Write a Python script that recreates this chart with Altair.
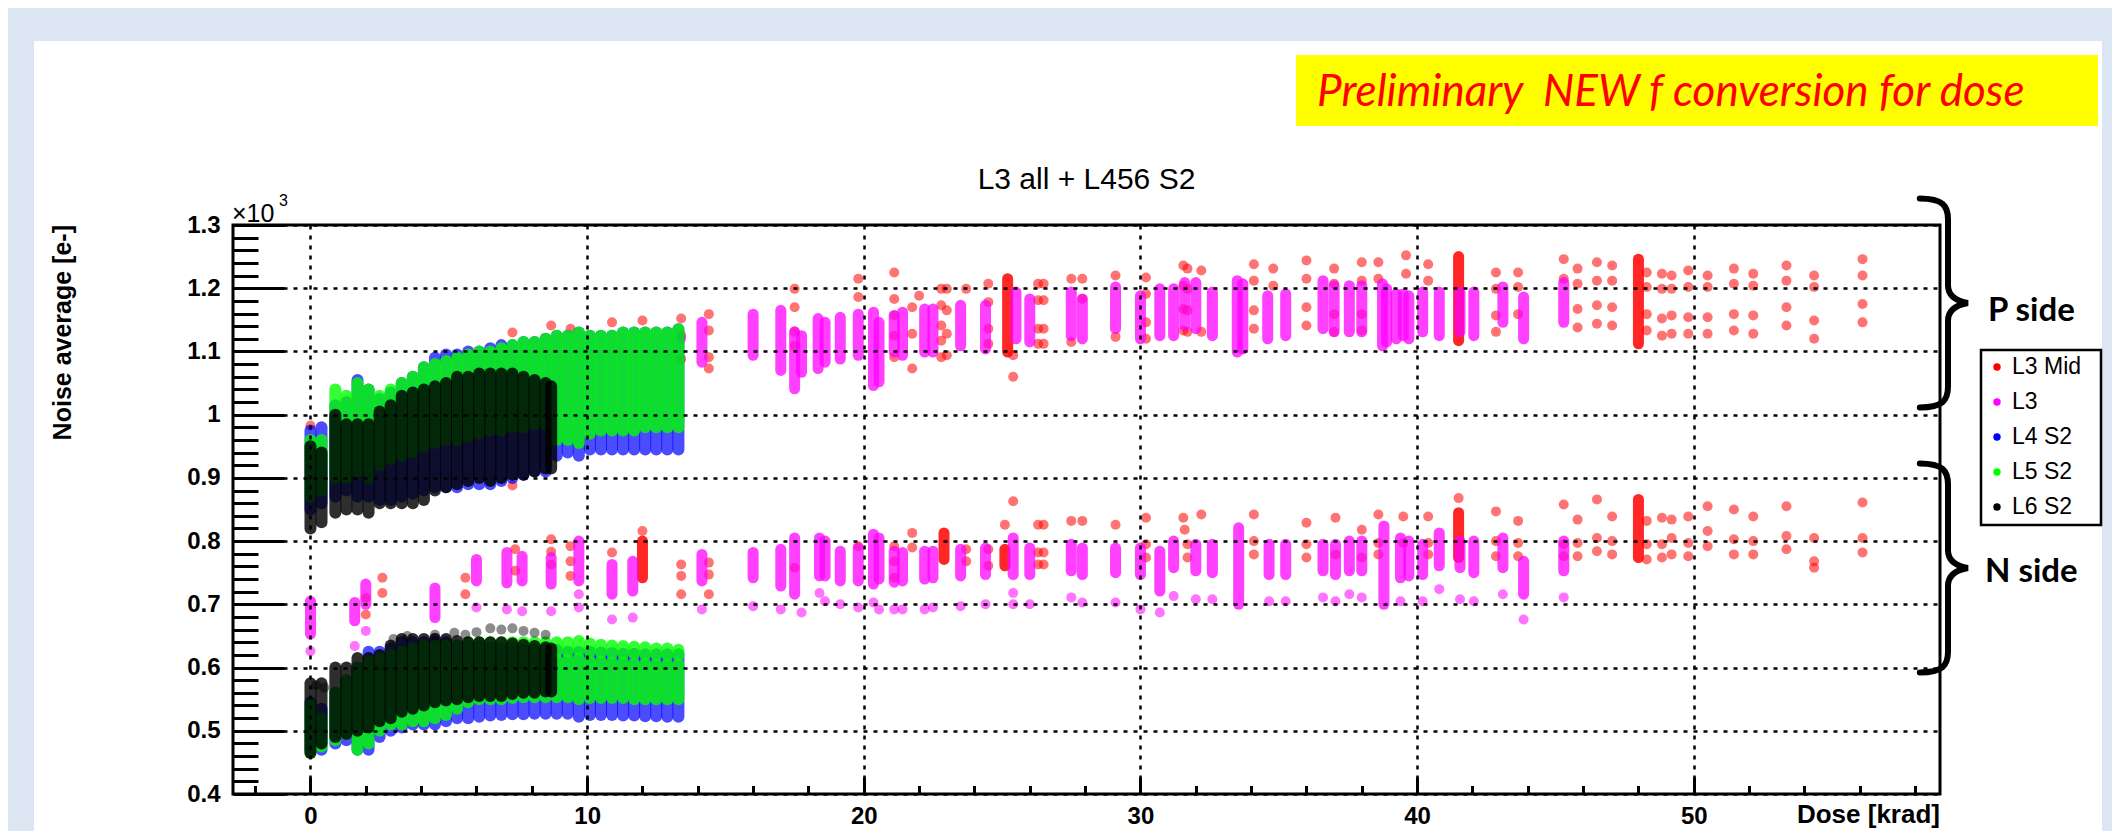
import altair as alt
import pandas as pd

# ---------------------------------------------------------------- data
SERIES = ["L3 Mid", "L3", "L4 S2", "L5 S2", "L6 S2"]
COLORS = ["#ff0000", "#ff00ff", "#0000ff", "#00ff00", "#000000"]

# dense columns of L4/L5/L6 (dose [krad], low/high noise [e-])
L6_DOSE = [0, 0.4, 0.9, 1.3, 1.7, 2.1, 2.5, 2.9, 3.3, 3.7, 4.1, 4.5, 4.9, 5.3, 5.7, 6.1,
           6.5, 6.9, 7.3, 7.7, 8.1, 8.5, 8.7]
L6_P_LO = [820, 830, 845, 850, 850, 845, 860, 860, 860, 860, 865, 880, 885, 890, 895, 900,
           895, 900, 905, 905, 910, 915, 915]
L6_P_HI = [950, 940, 1000, 985, 985, 985, 1005, 1015, 1030, 1035, 1040, 1045, 1050, 1060, 1060, 1065,
           1065, 1065, 1065, 1060, 1055, 1050, 1045]
L6_N_LO = [465, 480, 490, 495, 500, 505, 515, 520, 530, 535, 540, 545, 548, 550, 553, 555,
           555, 555, 558, 560, 560, 562, 562]
L6_N_HI = [575, 575, 600, 600, 615, 615, 620, 635, 645, 645, 645, 645, 645, 642, 640, 640,
           640, 640, 638, 636, 634, 632, 630]
L6_N_PTS = [(3.0, 645), (3.5, 650), (4.5, 652), (5.2, 655), (5.6, 652), (6.0, 656), (6.5, 662),
            (6.9, 660), (7.3, 662), (7.7, 658), (8.1, 655), (8.5, 652), (0.2, 572), (0.5, 568)]

L45_DOSE = [0, 0.4, 0.9, 1.3, 1.7, 2.1, 2.5, 2.9, 3.3, 3.7, 4.1, 4.5, 4.9, 5.3, 5.7, 6.1,
            6.5, 6.9, 7.3, 7.7, 8.1, 8.5, 8.9, 9.3, 9.7, 10.1, 10.5, 10.9, 11.3, 11.7, 12.1,
            12.5, 12.9, 13.3]
L5_P_LO = [870, 880, 900, 900, 910, 900, 920, 930, 935, 940, 950, 955, 960, 960, 965, 970,
           975, 975, 980, 980, 985, 985, 960, 960, 955, 970, 975, 975, 975, 975, 980, 980, 980, 980]
L5_P_HI = [960, 960, 1040, 1030, 1050, 1040, 1030, 1040, 1050, 1060, 1075, 1080, 1085, 1090, 1095, 1100,
           1100, 1105, 1110, 1115, 1115, 1120, 1125, 1125, 1130, 1125, 1125, 1125, 1130, 1130, 1130,
           1130, 1130, 1135]
L5_N_LO = [465, 475, 485, 495, 470, 480, 500, 510, 510, 515, 515, 520, 525, 535, 545, 550,
           550, 550, 552, 553, 553, 553, 553, 553, 550, 552, 552, 552, 552, 550, 550, 550, 550, 550]
L5_N_HI = [540, 520, 560, 580, 600, 610, 615, 620, 625, 630, 635, 635, 635, 635, 640, 640,
           640, 640, 640, 640, 640, 640, 612, 612, 615, 610, 610, 608, 608, 606, 606, 605, 605, 605]
L5_N_UPPER = [(8.9, 625, 640), (9.3, 625, 640), (9.7, 628, 642), (10.1, 625, 638), (10.5, 624, 636),
              (10.9, 623, 635), (11.3, 622, 634), (11.7, 622, 633), (12.1, 621, 632), (12.5, 620, 630),
              (12.9, 620, 630), (13.3, 619, 628)]
L4_P_LO = [850, 860, 870, 880, 870, 870, 865, 865, 870, 875, 880, 885, 885, 885, 890, 890,
           890, 895, 900, 905, 910, 910, 935, 940, 935, 945, 945, 945, 945, 945, 945, 945, 945, 945]
L4_P_HI = [975, 980, 1015, 1020, 1055, 1040, 1025, 1035, 1050, 1060, 1075, 1090, 1095, 1095, 1100, 1100,
           1105, 1110, 1110, 1115, 1115, 1120, 1125, 1125, 1130, 1125, 1125, 1125, 1130, 1130, 1130,
           1130, 1130, 1135]
L4_N_LO = [470, 470, 480, 485, 470, 470, 490, 500, 505, 510, 510, 510, 515, 520, 520, 522,
           524, 525, 526, 526, 527, 527, 527, 527, 522, 525, 525, 525, 524, 524, 523, 523, 522, 522]
L4_N_HI = [545, 535, 560, 580, 600, 625, 625, 630, 640, 640, 640, 640, 640, 635, 635, 635,
           632, 630, 630, 628, 628, 628, 628, 625, 625, 625, 624, 623, 622, 622, 621, 621, 621, 621]

# L3 (magenta) columns and single points
MAG_STRIPS = [
    (14.15, 1083, 1146), (16.0, 1094, 1159), (17.0, 1070, 1165), (17.5, 1041, 1131), (17.75, 1067, 1125),
    (18.35, 1073, 1152), (18.6, 1083, 1146), (19.15, 1088, 1154), (19.8, 1094, 1159), (20.35, 1046, 1162),
    (20.55, 1052, 1146), (21.1, 1099, 1157), (21.4, 1094, 1162), (22.2, 1099, 1167), (22.5, 1099, 1167),
    (23.5, 1109, 1173), (24.4, 1104, 1173), (25.5, 1120, 1194), (26.0, 1115, 1183), (27.5, 1125, 1194),
    (27.9, 1120, 1183), (29.1, 1136, 1202), (30.0, 1120, 1188), (30.7, 1125, 1199), (31.2, 1125, 1199),
    (31.6, 1141, 1209), (32.0, 1136, 1209), (32.6, 1125, 1194), (33.5, 1099, 1212), (33.7, 1104, 1207),
    (34.6, 1120, 1188), (35.25, 1125, 1191), (36.6, 1136, 1212), (37.0, 1131, 1204), (37.55, 1131, 1204),
    (38.0, 1131, 1204), (38.75, 1109, 1207), (38.9, 1115, 1199), (39.25, 1120, 1191), (39.5, 1125, 1191),
    (39.7, 1120, 1188), (40.2, 1131, 1194), (40.8, 1125, 1194), (41.55, 1131, 1194), (42.05, 1125, 1194),
    (43.1, 1146, 1202), (43.85, 1120, 1186), (45.3, 1146, 1209),
    (0, 653, 705), (1.6, 674, 703), (2.0, 700, 732), (4.5, 679, 726), (6.0, 737, 771), (7.1, 734, 782),
    (7.65, 737, 776), (8.7, 732, 774), (9.7, 737, 800), (10.9, 716, 763), (11.65, 721, 768),
    (14.15, 737, 779), (16.0, 742, 782), (17.0, 729, 787), (17.5, 716, 805), (18.4, 745, 805),
    (18.6, 745, 800), (19.15, 737, 784), (19.8, 737, 789), (20.35, 732, 811), (20.55, 740, 805),
    (21.1, 735, 784), (21.4, 737, 782), (22.2, 740, 784), (22.5, 742, 784), (23.5, 745, 787),
    (24.4, 747, 789), (25.4, 747, 805), (26.0, 747, 789), (27.5, 753, 795), (27.9, 747, 789),
    (29.1, 750, 789), (30.0, 747, 789), (30.7, 721, 784), (31.2, 758, 800), (32.0, 753, 795),
    (32.6, 750, 795), (33.55, 700, 821), (34.65, 747, 795), (35.25, 747, 795), (36.6, 753, 795),
    (37.05, 747, 795), (37.55, 753, 800), (38.0, 753, 800), (38.8, 700, 824), (39.4, 742, 805),
    (39.7, 745, 800), (40.2, 747, 795), (40.8, 761, 813), (41.55, 758, 800), (42.05, 750, 800),
    (43.1, 758, 805), (43.85, 716, 768), (45.3, 753, 800),
]
MAG_PTS = [
    (13.4, 1120), (0, 626), (1.6, 634), (2.0, 658), (4.5, 647), (6.0, 695), (7.1, 692), (7.65, 689),
    (8.7, 689), (9.7, 716), (9.7, 695), (10.9, 676), (11.65, 679), (14.15, 692), (16.0, 697),
    (17.0, 692), (17.75, 687), (18.4, 718), (18.6, 705), (19.15, 700), (19.8, 695), (20.35, 703),
    (20.55, 692), (21.1, 692), (21.4, 692), (22.2, 692), (22.5, 695), (23.5, 697), (24.4, 700),
    (25.4, 718), (25.4, 700), (26.0, 700), (27.5, 711), (27.9, 703), (29.1, 703), (30.0, 692),
    (30.7, 687), (31.2, 713), (32.0, 708), (32.6, 708), (34.65, 705), (35.25, 705), (36.6, 711),
    (37.05, 705), (37.55, 716), (38.0, 711), (39.4, 705), (40.2, 705), (40.8, 724), (41.55, 708),
    (42.05, 705), (43.1, 716), (43.85, 676), (45.3, 711),
]

# L3 Mid (red) dense columns and single points
RED_STRIPS = [(25.2, 1099, 1215), (41.5, 1117, 1250), (48.0, 1112, 1246), (12.0, 742, 800),
              (22.9, 771, 813), (25.1, 761, 787), (41.5, 774, 845), (48.0, 774, 866)]
RED_PTS = [
    (0, 983), (7.3, 1130), (7.3, 888), (8.7, 1141), (9.4, 1136), (10.9, 1146), (12.0, 1149),
    (13.4, 1152), (13.4, 1125), (13.4, 1088), (14.4, 1159), (14.4, 1133), (14.4, 1091), (14.4, 1073),
    (17.5, 1199), (17.5, 1170), (17.5, 1131), (17.5, 1109), (19.8, 1215), (19.8, 1186),
    (21.1, 1225), (21.1, 1183), (21.1, 1157), (21.1, 1125), (21.1, 1091),
    (21.75, 1170), (21.75, 1128), (21.75, 1073), (22.0, 1188),
    (22.8, 1199), (22.8, 1173), (22.8, 1141), (22.8, 1117), (22.8, 1091),
    (23.0, 1199), (23.0, 1165), (23.0, 1128), (23.0, 1094), (23.7, 1199),
    (24.5, 1207), (24.5, 1178), (24.5, 1136), (24.5, 1112), (25.4, 1094), (25.4, 1060),
    (26.3, 1207), (26.3, 1181), (26.3, 1136), (26.3, 1112), (26.5, 1207), (26.5, 1181),
    (26.5, 1136), (26.5, 1112), (27.5, 1215), (27.5, 1115), (27.9, 1215), (27.9, 1183),
    (29.1, 1220), (29.1, 1123), (30.2, 1217), (30.2, 1191), (30.2, 1146), (30.2, 1120),
    (31.55, 1236), (31.55, 1204), (31.55, 1167), (31.55, 1133), (31.7, 1231), (31.7, 1199),
    (31.7, 1165), (31.7, 1131), (32.2, 1228), (32.2, 1131), (34.1, 1238), (34.1, 1212),
    (34.1, 1165), (34.1, 1136), (34.8, 1231), (34.8, 1204), (36.0, 1244), (36.0, 1215),
    (36.0, 1170), (36.0, 1141), (37.0, 1231), (37.0, 1207), (37.0, 1159), (37.0, 1131),
    (38.0, 1241), (38.0, 1212), (38.0, 1159), (38.0, 1133), (38.6, 1241), (38.6, 1215),
    (39.6, 1252), (39.6, 1223), (40.4, 1238), (40.4, 1212),
    (42.85, 1225), (42.85, 1199), (42.85, 1157), (42.85, 1131), (43.65, 1225), (43.65, 1202),
    (43.65, 1159), (45.3, 1246), (45.3, 1215), (45.8, 1231), (45.8, 1207), (45.8, 1167),
    (45.8, 1138), (46.5, 1241), (46.5, 1212), (46.5, 1173), (46.5, 1144), (47.05, 1236),
    (47.05, 1212), (47.05, 1170), (47.05, 1141), (48.3, 1225), (48.3, 1202), (48.3, 1159),
    (48.3, 1133), (48.85, 1223), (48.85, 1199), (48.85, 1152), (48.85, 1125), (49.2, 1220),
    (49.2, 1199), (49.2, 1157), (49.2, 1128), (49.8, 1228), (49.8, 1202), (49.8, 1154),
    (49.8, 1128), (50.5, 1220), (50.5, 1202), (50.5, 1154), (50.5, 1128), (51.45, 1231),
    (51.45, 1207), (51.45, 1159), (51.45, 1133), (52.15, 1223), (52.15, 1204), (52.15, 1157),
    (52.15, 1128), (53.35, 1236), (53.35, 1212), (53.35, 1170), (53.35, 1141), (54.35, 1220),
    (54.35, 1202), (54.35, 1149), (54.35, 1120), (56.1, 1246), (56.1, 1220), (56.1, 1175),
    (56.1, 1146),
    (2.0, 710), (2.0, 684), (2.6, 742), (2.6, 718), (5.6, 742), (5.6, 716), (7.4, 787), (7.4, 753),
    (8.7, 803), (8.7, 783), (8.7, 763), (9.4, 792), (9.4, 768), (9.4, 745), (10.9, 782), (12.0, 816),
    (13.4, 763), (13.4, 745), (13.4, 716), (14.4, 766), (14.4, 747), (14.4, 716), (17.5, 758),
    (19.8, 792), (21.1, 792), (21.1, 768), (21.1, 742), (21.75, 813), (21.75, 790), (23.7, 787),
    (23.7, 768), (24.5, 787), (24.5, 761), (25.1, 826), (25.4, 863), (26.3, 826), (26.3, 782),
    (26.3, 763), (26.5, 826), (26.5, 782), (26.5, 763), (27.5, 832), (27.9, 832), (29.1, 826),
    (30.2, 837), (30.2, 795), (30.2, 774), (31.55, 837), (31.6, 818), (31.7, 795), (31.7, 774),
    (32.2, 842), (34.1, 842), (34.1, 800), (34.1, 779), (36.0, 829), (36.0, 795), (36.0, 774),
    (37.05, 837), (37.05, 779), (38.0, 818), (38.0, 774), (38.6, 842), (38.6, 797), (38.6, 779),
    (39.5, 839), (39.5, 797), (40.4, 839), (40.4, 797), (40.4, 779), (41.5, 868), (42.85, 847),
    (42.85, 800), (42.85, 776), (43.65, 832), (43.65, 797), (43.65, 776), (45.3, 858), (45.3, 795),
    (45.3, 776), (45.8, 834), (45.8, 797), (45.8, 776), (46.5, 866), (46.5, 805), (46.5, 784),
    (47.05, 839), (47.05, 800), (47.05, 779), (48.3, 832), (48.3, 795), (48.3, 771), (48.85, 837),
    (48.85, 795), (48.85, 774), (49.2, 834), (49.2, 805), (49.2, 779), (49.8, 839), (49.8, 797),
    (49.8, 776), (50.5, 855), (50.5, 816), (50.5, 792), (51.45, 850), (51.45, 803), (51.45, 779),
    (52.15, 839), (52.15, 800), (52.15, 779), (53.35, 855), (53.35, 808), (53.35, 787),
    (54.35, 805), (54.35, 768), (54.35, 758), (56.1, 861), (56.1, 805), (56.1, 782),
]

X_MAJOR = [0, 10, 20, 30, 40, 50]
X_MINOR = [-2, 2, 4, 6, 8, 12, 14, 16, 18, 22, 24, 26, 28, 32, 34, 36, 38, 42, 44, 46, 48, 52, 54, 56, 58]
Y_MAJOR = [400, 500, 600, 700, 800, 900, 1000, 1100, 1200, 1300]
Y_MINOR = [v for v in range(420, 1300, 20) if v % 100 != 0]

# ---------------------------------------------------------------- tables
def strips(series, rows):
    return pd.DataFrame([{"series": series, "dose": d, "lo": lo, "hi": hi} for d, lo, hi in rows])

def points(series, rows):
    return pd.DataFrame([{"series": series, "dose": d, "noise": v} for d, v in rows])

l6_strips = strips("L6 S2", list(zip(L6_DOSE, L6_P_LO, L6_P_HI)) + list(zip(L6_DOSE, L6_N_LO, L6_N_HI)))
l5_strips = strips("L5 S2", list(zip(L45_DOSE, L5_P_LO, L5_P_HI)) + list(zip(L45_DOSE, L5_N_LO, L5_N_HI)) + L5_N_UPPER)
l4_strips = strips("L4 S2", list(zip(L45_DOSE, L4_P_LO, L4_P_HI)) + list(zip(L45_DOSE, L4_N_LO, L4_N_HI)))
mag_strips = strips("L3", MAG_STRIPS)
red_strips = strips("L3 Mid", RED_STRIPS)
l6_pts = points("L6 S2", L6_N_PTS)
mag_pts = points("L3", MAG_PTS)
red_pts = points("L3 Mid", RED_PTS)

xs = alt.Scale(domain=[-2.8, 58.9], nice=False, zero=False)
ys = alt.Scale(domain=[400, 1300], nice=False, zero=False)
cs = alt.Scale(domain=SERIES, range=COLORS)
PW, PH = 1707, 569
AX_FONT = "Liberation Sans"


def strip_layer(df, opacity, width=11):
    return alt.Chart(df).mark_rule(strokeWidth=width, strokeCap="round", opacity=opacity).encode(
        x=alt.X("dose:Q", scale=xs, axis=None),
        y=alt.Y("lo:Q", scale=ys, axis=None),
        y2="hi:Q",
        color=alt.Color("series:N", scale=cs, legend=None),
    )


def point_layer(df, opacity):
    return alt.Chart(df).mark_circle(size=100, opacity=opacity).encode(
        x=alt.X("dose:Q", scale=xs, axis=None),
        y=alt.Y("noise:Q", scale=ys, axis=None),
        color=alt.Color("series:N", scale=cs, legend=None),
    )


one = pd.DataFrame({"dose": [0.0], "noise": [500.0]})


def rect(x1, x2, y1, y2, **kw):
    return alt.Chart(one).mark_rect(**kw).encode(
        x=alt.value(x1), x2=alt.value(x2), y=alt.value(y1), y2=alt.value(y2))


def label(txt, x, y, **kw):
    return alt.Chart(one).mark_text(text=txt, **kw).encode(x=alt.value(x), y=alt.value(y))


# decorations (slide background bands, yellow banner, titles)
LIGHT = "#dce6f2"
deco = [
    rect(-240, PW + 180, -230, -184, color=LIGHT),
    rect(-240, -199, -230, PH + 60, color=LIGHT),
    rect(PW + 162, PW + 180, -230, PH + 60, color=LIGHT),
    rect(1063, 1865, -170, -99, color="#ffff00"),
    label("Preliminary \u00a0NEW f conversion for dose", 1084, -119, font="Lato", fontStyle="italic",
          fontSize=44, color="#ff0000", align="left", baseline="alphabetic"),
    label("L3 all + L456 S2", PW / 2, -36, font=AX_FONT, fontSize=30, color="black",
          align="center", baseline="alphabetic"),
    label("×10", -1, -3, font=AX_FONT, fontSize=25, color="black", align="left", baseline="alphabetic"),
    label("3", 46, -19, font=AX_FONT, fontSize=16, color="black", align="left", baseline="alphabetic"),
    label("Noise average [e-]", -170, 0, font=AX_FONT, fontSize=25, fontWeight="bold", color="black",
          angle=270, align="right", baseline="middle"),
    label("Dose [krad]", PW, 598, font=AX_FONT, fontSize=26, fontWeight="bold", color="black",
          align="right", baseline="alphabetic"),
]

data_layers = [
    strip_layer(red_strips, 0.85), point_layer(red_pts, 0.55),
    strip_layer(mag_strips, 0.75), point_layer(mag_pts, 0.55),
    strip_layer(l4_strips, 0.7, 12),
    strip_layer(l5_strips, 0.8, 12),
    strip_layer(l6_strips, 0.82, 12), point_layer(l6_pts, 0.45),
]

# axes: labels + dotted grid, then inward major / minor ticks
lab_common = dict(labelFont=AX_FONT, labelFontWeight="bold", labelFontSize=24, labelColor="black",
                  ticks=False, tickSize=0, domain=False, grid=True, gridColor="black",
                  gridDash=[4, 6], gridWidth=2.5, gridOpacity=1, title=None, zindex=1,
                  labelFlush=False, labelOverlap=False)
axis_main = alt.Chart(one).mark_point(opacity=0).encode(
    x=alt.X("dose:Q", scale=xs, axis=alt.Axis(orient="bottom", values=X_MAJOR, labelPadding=10, **lab_common)),
    y=alt.Y("noise:Q", scale=ys, axis=alt.Axis(orient="left", values=Y_MAJOR, labelPadding=13,
                                                labelExpr="format(datum.value / 1000, '.1~f')", **lab_common)),
)


def tick_axes(xvals, xsize, yvals, ysize):
    common = dict(labels=False, domain=False, grid=False, ticks=True, tickColor="black", tickWidth=3,
                  title=None, zindex=1)
    return alt.Chart(one).mark_point(opacity=0).encode(
        x=alt.X("dose:Q", scale=xs, axis=alt.Axis(orient="top", offset=-PH, values=xvals, tickSize=xsize, **common)),
        y=alt.Y("noise:Q", scale=ys, axis=alt.Axis(orient="right", offset=-PW, values=yvals, tickSize=ysize, **common)),
    )


axis_major = tick_axes(X_MAJOR, 17, Y_MAJOR, 51)
axis_minor = tick_axes(X_MINOR, 8.5, Y_MINOR, 25)

# braces, side labels and legend box
BRACE = ("M -0.27 -1 C -0.05 -1 0 -0.93 0 -0.8 L 0 -0.17 C 0 -0.07 0.08 -0.02 0.19 0 "
         "C 0.08 0.02 0 0.07 0 0.17 L 0 0.8 C 0 0.93 -0.05 1 -0.27 1")


def brace(y):
    return alt.Chart(one).mark_point(shape=BRACE, size=43681, filled=False, color="black",
                                     strokeWidth=6, opacity=1, strokeCap="round").encode(
        x=alt.value(1715), y=alt.value(y))


legend_df = pd.DataFrame({"series": SERIES, "row": list(range(len(SERIES)))})
side = [
    brace(78), brace(343),
    label("P side", 1755, 86, font="Lato", fontWeight="bold", fontSize=33, color="black",
          align="left", baseline="middle"),
    label("N side", 1752, 347, font="Lato", fontWeight="bold", fontSize=33, color="black",
          align="left", baseline="middle"),
    rect(1748, 1868, 125, 300, fill="white", stroke="black", strokeWidth=2.5),
    alt.Chart(legend_df).transform_calculate(ly="142 + 35 * datum.row").mark_circle(size=55, opacity=1).encode(
        x=alt.value(1764), y=alt.Y("ly:Q", scale=None, axis=None),
        color=alt.Color("series:N", scale=cs, legend=None)),
    alt.Chart(legend_df).transform_calculate(ly="142 + 35 * datum.row").mark_text(
        font=AX_FONT, fontSize=23, color="black", align="left", baseline="middle").encode(
        x=alt.value(1779), y=alt.Y("ly:Q", scale=None, axis=None), text="series:N"),
]

chart = alt.layer(*deco, *data_layers, axis_main, axis_major, axis_minor, *side).resolve_axis(
    x="independent", y="independent"
).properties(
    width=PW, height=PH,
    padding={"left": 225, "top": 217, "right": 172, "bottom": 37},
    autosize=alt.AutoSizeParams(type="none"),
    background="white",
).configure_view(stroke="black", strokeWidth=3)

chart.save("out.html", embed_options={"renderer": "svg", "actions": False})
